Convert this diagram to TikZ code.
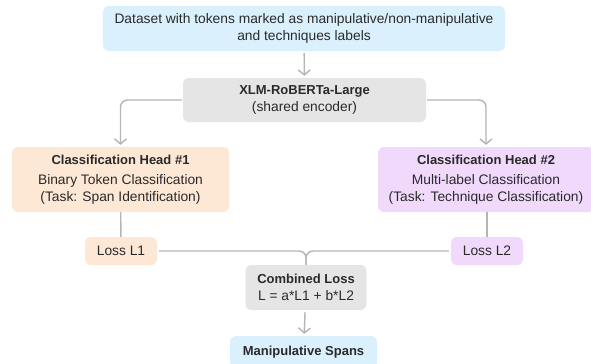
\documentclass[tikz,border=0pt]{standalone}
\usepackage{fontspec}
\setmainfont{Liberation Sans}
\usetikzlibrary{arrows.meta}
\definecolor{cblue}{HTML}{DAF0FD}
\definecolor{cgray}{HTML}{E5E5E5}
\definecolor{cpeach}{HTML}{FDE8D6}
\definecolor{clav}{HTML}{F1D9FC}
\definecolor{cline}{HTML}{B5B5B5}
\definecolor{ctext}{HTML}{2A2A2A}
\newcommand\hb[1]{{\fontsize{13bp}{17bp}\selectfont\bfseries #1}}
\tikzset{
  box/.style={rounded corners=6bp, draw=none, align=center, inner sep=0pt,
    text=ctext, font=\fontsize{13.8bp}{17bp}\selectfont},
  conn/.style={draw=cline, line width=1.4bp, rounded corners=7bp},
  arr/.style={conn, -{Straight Barb[length=5bp,width=12bp,line width=1.4bp]}, shorten >=2bp, shorten <=2bp},
}
\begin{document}
\begin{tikzpicture}[x=1bp,y=-1bp]
\useasboundingbox[fill=white] (0,0) rectangle (591,363);
\node[box, fill=cblue, minimum width=402bp, minimum height=45bp] (top) at (304,28.5)
  {Dataset with tokens marked as manipulative/non-manipulative\\and techniques labels};
\node[box, fill=cgray, minimum width=243bp, minimum height=44bp] (xlm) at (304.5,100)
  {\hb{XLM-RoBERTa-Large}\\(shared encoder)};
\node[box, fill=cpeach, minimum width=217bp, minimum height=65bp] (h1) at (120.5,179.5)
  {\hb{Classification Head \#1}\\[3bp]Binary Token Classification\\(Task: Span Identification)};
\node[box, fill=clav, minimum width=216bp, minimum height=65bp] (h2) at (486,179.5)
  {\hb{Classification Head \#2}\\[3bp]Multi-label Classification\\(Task: Technique Classification)};
\node[box, fill=cpeach, minimum width=72bp, minimum height=28bp] (l1) at (121,251) {Loss L1};
\node[box, fill=clav, minimum width=72bp, minimum height=28bp] (l2) at (487,251) {Loss L2};
\node[box, fill=cgray, minimum width=121bp, minimum height=45bp] (comb) at (306,287.5)
  {\hb{Combined Loss}\\L = a*L1 + b*L2};
\node[box, fill=cblue, minimum width=147bp, minimum height=32bp] (spans) at (303.5,352)
  {\hb{Manipulative Spans}};
\draw[arr] (top) -- (xlm);
\draw[arr, shorten <=1bp] (xlm.west) -| (h1.north);
\draw[arr, shorten <=1bp] (xlm.east) -| (h2.north);
\draw[conn] (h1) -- (l1);
\draw[conn] (h2.south -| l2.north) -- (l2);
\draw[conn, shorten <=2bp] (l1.east) -| (comb.north);
\draw[conn, shorten <=2bp] (l2.west) -| (comb.north);
\draw[arr] (comb) -- (spans);
\end{tikzpicture}
\end{document}
